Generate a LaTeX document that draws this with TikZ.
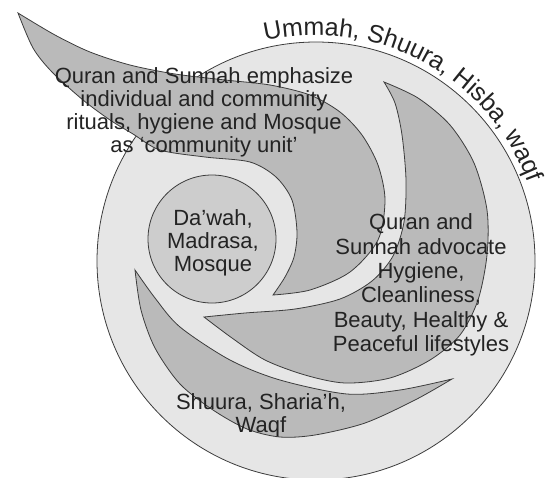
\documentclass[tikz,border=0pt]{standalone}
\usepackage{fontspec}
\setmainfont{Liberation Sans}
\usepackage{xcolor}
\usepackage{tikz}
\usetikzlibrary{decorations.text}
\definecolor{ring}{RGB}{230,230,230}
\definecolor{crescent}{RGB}{186,186,186}
\definecolor{core}{RGB}{205,205,205}
\definecolor{edge}{RGB}{60,60,60}
\definecolor{ink}{RGB}{35,35,35}

\begin{document}
\begin{tikzpicture}[x=1pt, y=-1pt, line width=0.8pt,
    moon/.style={draw=edge, fill=crescent},
    txt/.style={text=ink, align=center, font=\fontsize{22}{23}\selectfont}]
    \useasboundingbox (0,0) rectangle (556,477);

    % outer ring
    \draw[draw=edge, fill=ring] (316,261) circle[radius=219];

    % horn crescent (top left)
    \draw[moon] plot[smooth] coordinates {(18,13) (55,35) (90,52) (130,65) (175,74) (225,80) (270,85) (310,95) (340,112) (362,135) (378,165) (385,200) (378,240) (350,272) (310,290) (273,295)}
        -- plot[smooth] coordinates {(273,295) (285,277) (294,257) (297,232) (292,200) (276,177) (250,162) (205,157) (160,150) (133,134) (110,120) (83,100) (52,72) (33,48) (18,13)} -- cycle;

    % right crescent
    \draw[moon] plot[smooth] coordinates {(384,82) (418,98) (450,125) (474,163) (487,210) (487,255) (478,300) (460,335) (430,360) (390,378) (345,383) (305,375) (265,360) (232,338) (204,317)}
        -- plot[smooth] coordinates {(204,317) (245,313) (295,309) (340,299) (372,281) (393,256) (404,222) (406,180) (402,135) (395,103) (384,82)} -- cycle;

    % bottom crescent
    \draw[moon] plot[smooth] coordinates {(135,270) (155,298) (180,327) (230,360) (280,380) (347,394) (400,390) (452,379)}
        -- plot[smooth] coordinates {(452,379) (415,400) (365,423) (315,435) (280,437) (247,429) (213,410) (180,384) (155,348) (141,310) (135,270)} -- cycle;

    % inner circle
    \draw[draw=edge, fill=core] (212,239) circle[radius=64];

    \node[txt] (emphasize) at (204,112) {Quran and Sunnah emphasize\\individual and community\\rituals, hygiene and Mosque\\as `community unit'};
    \node[txt] (dawah) at (213,243) {Da'wah,\\Madrasa,\\Mosque};
    \node[txt, font=\fontsize{22}{24.4}\selectfont] (advocate) at (421,285) {Quran and\\Sunnah advocate\\Hygiene,\\Cleanliness,\\Beauty, Healthy \&\\Peaceful lifestyles};
    \node[txt] (shuura) at (261,415) {Shuura, Sharia'h,\\Waqf};

    % text round the ring
    \path[decorate, decoration={text along path, text color=ink,
        text={|\fontsize{25}{25}\selectfont|Ummah, Shuura, Hisba, waqf}}]
        (316,261) ++(-103:226) arc[start angle=-103, end angle=-10, radius=226];
\end{tikzpicture}
\end{document}
